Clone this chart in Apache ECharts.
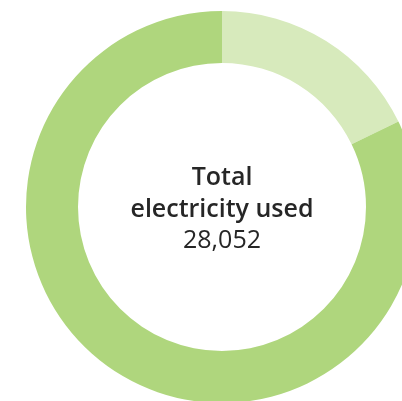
<!DOCTYPE html>
<html><head><meta charset="utf-8">
<script src="https://cdn.jsdelivr.net/npm/echarts@6/dist/echarts.min.js"></script>
<style>html,body{margin:0;padding:0;background:#fff}#c{width:402px;height:401px}</style>
</head><body><div id="c"></div>
<script>
var categories = ['Other', 'Main'];
var values = [5000, 23052];
var colors = ['#d7eabc', '#afd67d'];
var titleLines = ['Total', 'electricity used'];

var total = values.reduce(function(a,b){return a+b;},0);
var chart = echarts.init(document.getElementById('c'), null, {renderer:'canvas'});
var font = '"Open Sans", sans-serif';
chart.setOption({
  animation:false,
  series:[{
    type:'pie',
    center:[222,207],
    radius:[144,196],
    startAngle:90,
    clockwise:true,
    silent:true,
    label:{show:false},
    labelLine:{show:false},
    data: categories.map(function(c,i){return {name:c,value:values[i],itemStyle:{color:colors[i]}};})
  }],
  graphic:[
    {type:'text', style:{text:titleLines[0], x:222, y:165, align:'center', verticalAlign:'alphabetic', font:'600 25px '+font, fill:'#262626'}},
    {type:'text', style:{text:titleLines[1], x:222, y:197, align:'center', verticalAlign:'alphabetic', font:'600 25px '+font, fill:'#262626'}},
    {type:'text', style:{text:total.toLocaleString('en-US'), x:222, y:228, align:'center', verticalAlign:'alphabetic', font:'25px '+font, fill:'#262626'}}
  ]
});
</script></body></html>
